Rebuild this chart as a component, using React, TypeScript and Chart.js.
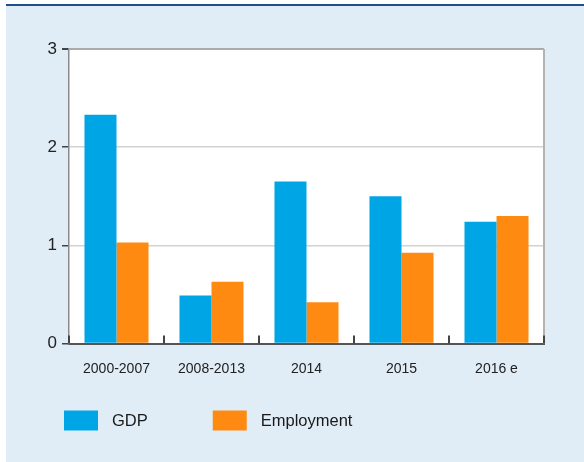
import React, { useEffect, useRef } from "react";
import { Chart, registerables } from "chart.js";

Chart.register(...registerables);

const categories = ["2000-2007", "2008-2013", "2014", "2015", "2016 e"];
const seriesNames = ["GDP", "Employment"];
const gdpValues = [2.33, 0.49, 1.65, 1.5, 1.24];
const employmentValues = [1.03, 0.63, 0.42, 0.925, 1.3];
const yTicks = [0, 1, 2, 3];
const colors = ["#00A5E6", "#FF8A12"];

const FONT = "'Liberation Sans', Arial, Helvetica, sans-serif";

const decor = {
  id: "decor",
  beforeDraw(chart: any) {
    const { ctx, chartArea: a } = chart;
    ctx.save();
    ctx.fillStyle = "#ffffff";
    ctx.fillRect(a.left, a.top, a.right - a.left, a.bottom - a.top);
    ctx.restore();
  },
  afterDatasetsDraw(chart: any) {
    const { ctx, chartArea: a } = chart;
    const xs = chart.scales.x;
    ctx.save();
    ctx.strokeStyle = "#b3b3b3";
    ctx.lineWidth = 2;
    ctx.beginPath();
    ctx.moveTo(a.right, a.top);
    ctx.lineTo(a.right, a.bottom);
    ctx.stroke();
    ctx.strokeStyle = "#444";
    ctx.lineWidth = 2;
    for (let i = 0; i <= categories.length; i++) {
      const px = xs.getPixelForValue(i - 0.5);
      ctx.beginPath();
      ctx.moveTo(px, a.bottom);
      ctx.lineTo(px, a.bottom - 8);
      ctx.stroke();
    }
    ctx.restore();
  },
  afterDraw(chart: any) {
    const { ctx } = chart;
    ctx.save();
    ctx.font = `16.5px ${FONT}`;
    ctx.textBaseline = "middle";
    ctx.textAlign = "left";
    let x = 58;
    const boxTop = 404.5;
    chart.data.datasets.forEach((ds: any) => {
      ctx.fillStyle = ds.backgroundColor;
      ctx.fillRect(x, boxTop, 34, 20);
      x += 34 + 14;
      ctx.fillStyle = "#1a1a1a";
      ctx.fillText(ds.label, x, boxTop + 10.5);
      x += ctx.measureText(ds.label).width + 65;
    });
    ctx.restore();
  },
};

export default function App() {
  const ref = useRef<HTMLCanvasElement>(null);
  useEffect(() => {
    const chart = new Chart(ref.current!, {
      type: "bar",
      data: {
        labels: categories,
        datasets: [
          { label: seriesNames[0], data: gdpValues, backgroundColor: colors[0], borderWidth: 0 },
          { label: seriesNames[1], data: employmentValues, backgroundColor: colors[1], borderWidth: 0 },
        ],
      },
      options: {
        responsive: false,
        animation: false,
        layout: { padding: { left: 0, right: 40, top: 43, bottom: 0 } },
        plugins: { legend: { display: false }, tooltip: { enabled: false } },
        datasets: { bar: { categoryPercentage: 0.674, barPercentage: 1 } },
        scales: {
          x: {
            grid: { display: false, drawTicks: false, tickLength: 0 },
            border: { display: true, color: "#555", width: 2 },
            ticks: { font: { family: FONT, size: 14 }, color: "#222", padding: 17, maxRotation: 0 },
            afterFit(scale: any) {
              scale.height = 118.5;
            },
          },
          y: {
            min: 0,
            max: 3,
            afterBuildTicks(scale: any) {
              scale.ticks = yTicks.map((v) => ({ value: v }));
            },
            grid: {
              color: (c: any) =>
                c.tick && c.tick.value === 0 ? "rgba(0,0,0,0)" : c.tick && c.tick.value === 3 ? "#aaaaaa" : "#d2d2d2",
              lineWidth: (c: any) => (c.tick && c.tick.value === 3 ? 2 : 1.5),
              tickColor: "#444",
              tickLength: 7,
              drawTicks: true,
            },
            border: { display: true, color: "#8a8a8a", width: 1.5 },
            ticks: { font: { family: FONT, size: 17 }, color: "#222", padding: 5 },
            afterFit(scale: any) {
              scale.width = 63;
            },
          },
        },
      },
      plugins: [decor],
    });
    return () => chart.destroy();
  }, []);
  return (
    <div style={{ position: "absolute", left: 0, top: 0, width: 584, height: 462, background: "#fff", overflow: "hidden" }}>
      <div
        style={{
          position: "absolute",
          left: 6,
          top: 4,
          width: 578,
          height: 458,
          background: "#E0EDF6",
          borderTop: "2px solid #1F4E8E",
          boxSizing: "border-box",
        }}
      >
        <canvas ref={ref} width={578} height={456} style={{ display: "block", width: 578, height: 456 }} />
      </div>
    </div>
  );
}
